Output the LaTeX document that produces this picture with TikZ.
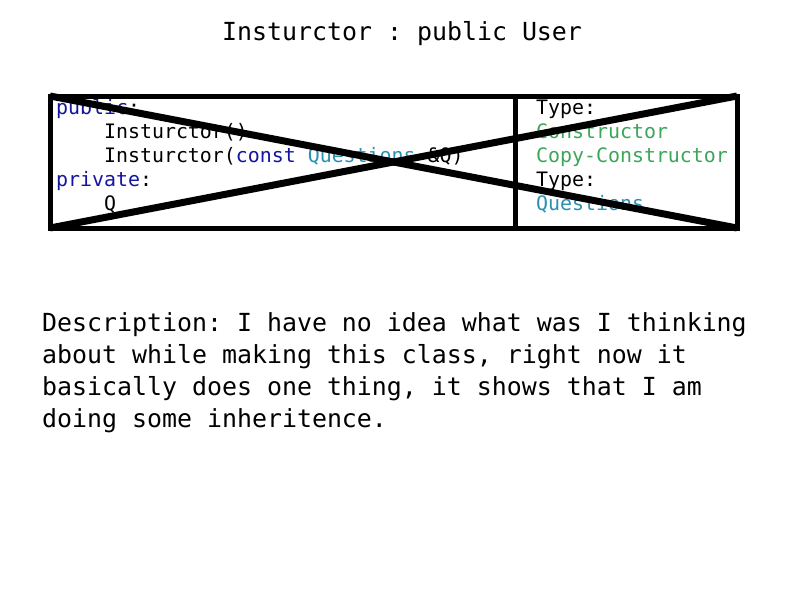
\documentclass[tikz,border=0pt]{standalone}
\usepackage{fontspec}
\setmonofont{DejaVu Sans Mono}
\definecolor{kwblue}{RGB}{20,20,160}
\definecolor{tyteal}{RGB}{43,145,175}
\definecolor{cmgreen}{RGB}{60,165,90}
\begin{document}
\begin{tikzpicture}[x=1pt,y=-1pt,
  txt/.style={inner sep=0pt,anchor=base west,font=\ttfamily\fontsize{24.9}{25}\selectfont},
  code/.style={inner sep=0pt,anchor=base west,font=\ttfamily\fontsize{19.9}{20}\selectfont},
  frame/.style={draw=black,line width=5pt},
  cross/.style={draw=black,line width=7pt}]
\useasboundingbox (0,0) rectangle (800,600);
\fill[white] (0,0) rectangle (800,600);
% title
\node[txt] (title) at (222,40) {Insturctor : public User};
% box text
\node[code] (pub) at (56,114) {\textcolor{kwblue}{public}:};
\node[code] (c1) at (56,138) {\phantom{xxxx}Insturctor()};
\node[code] (c2) at (56,162) {\phantom{xxxx}Insturctor(\textcolor{kwblue}{const} \textcolor{tyteal}{Questions} \&Q)};
\node[code] (priv) at (56,186) {\textcolor{kwblue}{private}:};
\node[code] (q) at (56,210) {\phantom{xxxx}Q};
\node[code] (t1) at (536,114) {Type:};
\node[code,text=cmgreen] (t2) at (536,138) {Constructor};
\node[code,text=cmgreen] (t3) at (536,162) {Copy-Constructor};
\node[code] (t4) at (536,186) {Type:};
\node[code,text=tyteal] (t5) at (536,210) {Questions};
% frame and cross
\coordinate (nw) at (50,96);
\coordinate (se) at (737,228);
\coordinate (ne) at (737,96);
\coordinate (sw) at (50,228);
\coordinate (dtop) at (515,96);
\coordinate (dbot) at (515,228);
\draw[frame] (nw) rectangle (se);
\draw[frame] (dtop) -- (dbot);
\draw[cross] (nw) -- (se);
\draw[cross] (sw) -- (ne);
% description
\node[txt] (d1) at (42,331) {Description: I have no idea what was I thinking};
\node[txt] (d2) at (42,363) {about while making this class, right now it};
\node[txt] (d3) at (42,395) {basically does one thing, it shows that I am};
\node[txt] (d4) at (42,427) {doing some inheritence.};
\end{tikzpicture}
\end{document}
